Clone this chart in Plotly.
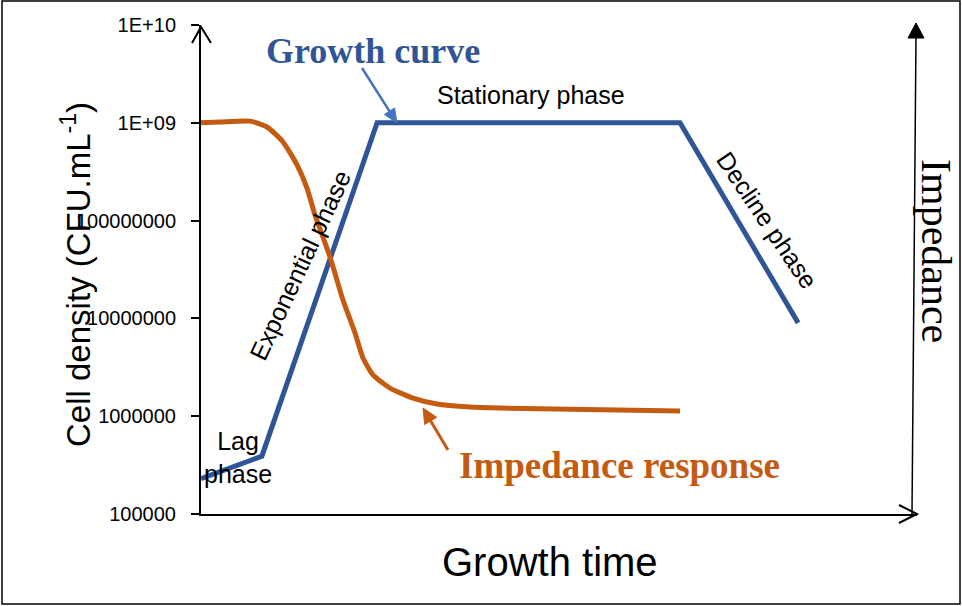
import math
import plotly.graph_objects as go

# ---- data ----
growth_time = [0, 8.5, 24.6, 66.9, 83.4]
growth_cfu = [2.3e5, 3.9e5, 1.0e9, 1.0e9, 9.0e6]

imp_time = [0, 2.65, 6.84, 9.22, 11.45, 13.41, 14.80, 15.92, 18.02, 19.83, 21.51, 22.63,
            24.02, 26.40, 29.61, 32.96, 37.57, 41.76, 66.9]
imp_val = [1.0e9, 1.02e9, 1.04e9, 9.06e8, 6.37e8, 3.71e8, 2.15e8, 1.14e8, 4.25e7, 1.54e7,
           7.1e6, 3.94e6, 2.64e6, 1.94e6, 1.53e6, 1.33e6, 1.24e6, 1.21e6, 1.13e6]

tick_vals = [1e5, 1e6, 1e7, 1e8, 1e9, 1e10]
tick_text = ["100000", "1000000", "10000000", "100000000", "1E+09", "1E+10"]

BLUE = "#2F5597"
ORANGE = "#C55A11"
ARROW_BLUE = "#4472C4"
SANS = "Liberation Sans, Arial, sans-serif"
SERIF = "Liberation Serif, Times New Roman, serif"

# plot area in pixels (for decorations)
L, R, T, B = 201, 917, 25, 514
W, H = R - L, B - T


def px(x):
    return (x - L) / W


def py(y):
    return (B - y) / H


fig = go.Figure()
fig.add_trace(go.Scatter(x=growth_time, y=growth_cfu, mode="lines",
                         line=dict(color=BLUE, width=5), hoverinfo="skip"))
fig.add_trace(go.Scatter(x=imp_time, y=imp_val, mode="lines",
                         line=dict(color=ORANGE, width=5, shape="spline", smoothing=0.6),
                         hoverinfo="skip"))


def arrow_shapes(tail, tip, color, width, head_len, head_half):
    (x0, y0), (x1, y1) = tail, tip
    dx, dy = x1 - x0, y1 - y0
    d = math.hypot(dx, dy)
    ux, uy = dx / d, dy / d
    bx, by = x1 - ux * head_len, y1 - uy * head_len
    nx, ny = -uy, ux
    p1 = (bx + nx * head_half, by + ny * head_half)
    p2 = (bx - nx * head_half, by - ny * head_half)
    return [
        dict(type="line", xref="paper", yref="paper", x0=px(x0), y0=py(y0),
             x1=px(bx + ux * 2), y1=py(by + uy * 2), line=dict(color=color, width=width)),
        dict(type="path", xref="paper", yref="paper",
             path=f"M{px(x1)},{py(y1)} L{px(p1[0])},{py(p1[1])} L{px(p2[0])},{py(p2[1])} Z",
             line=dict(color=color, width=1), fillcolor=color),
    ]


shapes = [
    dict(type="rect", xref="paper", yref="paper", x0=px(2), x1=px(960), y0=py(604), y1=py(1),
         line=dict(color="black", width=1.5), fillcolor="rgba(0,0,0,0)", layer="below"),
    dict(type="path", xref="paper", yref="paper",
         path=f"M{px(192)},{py(43)} L{px(201)},{py(27)} L{px(211)},{py(43)}",
         line=dict(color="black", width=2)),
    dict(type="path", xref="paper", yref="paper",
         path=f"M{px(899)},{py(505)} L{px(917)},{py(514)} L{px(899)},{py(523)}",
         line=dict(color="black", width=2)),
    dict(type="line", xref="paper", yref="paper", x0=px(912), y0=py(514), x1=px(916), y1=py(36),
         line=dict(color="black", width=1.5)),
    dict(type="path", xref="paper", yref="paper",
         path=f"M{px(908)},{py(38)} L{px(916)},{py(23)} L{px(924)},{py(38)} Z",
         line=dict(color="black", width=1), fillcolor="black"),
]
shapes += arrow_shapes((362, 68), (397, 123), ARROW_BLUE, 2.5, 14, 6)
shapes += arrow_shapes((448, 450), (423, 408), ORANGE, 3, 15, 7)


def ann(x, y, text, size, color="black", family=SANS, angle=0, **kw):
    d = dict(xref="paper", yref="paper", x=px(x), y=py(y), text=text, showarrow=False,
             xanchor="center", yanchor="middle", textangle=angle,
             font=dict(size=size, color=color, family=family))
    d.update(kw)
    return d


annotations = [
    ann(373, 51, "<b>Growth curve</b>", 36, BLUE, SERIF),
    ann(619, 465, "<b>Impedance response</b>", 37, ORANGE, SERIF),
    ann(531, 95, "Stationary phase", 25),
    ann(238, 457, "Lag<br>phase", 25),
    ann(300, 265, "Exponential phase", 25, angle=-65),
    ann(767, 220, "Decline phase", 25, angle=56),
    ann(76, 275, "Cell density (CFU.mL<sup>-1</sup>)", 33, angle=-90),
    ann(550, 562, "Growth time", 40),
    ann(936, 251, "Impedance", 42, family=SERIF, angle=90),
]

fig.update_layout(
    width=962, height=606,
    margin=dict(l=L, r=962 - R, t=T, b=606 - B),
    paper_bgcolor="white", plot_bgcolor="white",
    showlegend=False,
    shapes=shapes,
    annotations=annotations,
    xaxis=dict(range=[0, 100], showline=True, linecolor="black", linewidth=2,
               showgrid=False, zeroline=False, showticklabels=False, ticks=""),
    yaxis=dict(type="log", range=[5, 10], tickvals=tick_vals, ticktext=tick_text,
               ticks="outside", ticklen=8, tickwidth=1.5, tickcolor="black",
               showline=True, linecolor="black", linewidth=2, showgrid=False, zeroline=False,
               tickfont=dict(size=20, color="black", family=SANS), ticklabelstandoff=11),
)

fig.write_html("out.html", config={"displayModeBar": False},
               post_script="document.body.style.margin='0px';")
